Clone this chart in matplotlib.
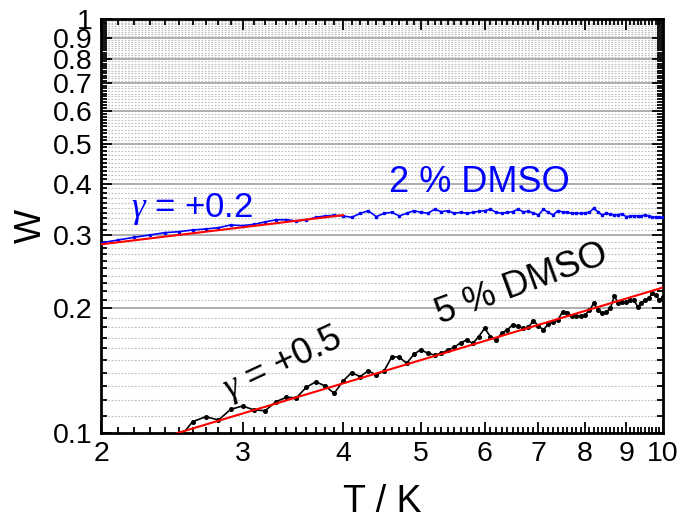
import numpy as np
import matplotlib
matplotlib.use("Agg")
import matplotlib.pyplot as plt
from matplotlib.ticker import FixedLocator, NullFormatter, FixedFormatter

plt.rcParams['font.family'] = ['Liberation Sans', 'DejaVu Sans']
plt.rcParams['mathtext.fontset'] = 'custom'
plt.rcParams['mathtext.it'] = 'Liberation Serif:italic'
plt.rcParams['mathtext.rm'] = 'Liberation Sans'

# ---- data ----
T_2pct = np.round(np.arange(20, 101) / 10, 1)          # 2.0 ... 10.0
W_2pct = [0.288, 0.2925, 0.2970, 0.3008, 0.3047, 0.3064, 0.3093, 0.3110, 0.3133, 0.3180,
          0.3168, 0.3192, 0.3235, 0.3272, 0.3275, 0.3251, 0.3269, 0.3319, 0.3344, 0.3357,
          0.3344, 0.3319, 0.3390, 0.3443, 0.3331, 0.3394, 0.3412, 0.3344, 0.3394, 0.3443,
          0.3412, 0.3394, 0.3470, 0.3424, 0.3443, 0.3394, 0.3412, 0.3394, 0.3412, 0.3430,
          0.3443, 0.3470, 0.3412, 0.3394, 0.3410, 0.3424, 0.3470, 0.3424, 0.3430, 0.3400,
          0.3362, 0.3470, 0.3410, 0.3362, 0.3443, 0.3420, 0.3412, 0.3394, 0.3394, 0.3394,
          0.3400, 0.3412, 0.3489, 0.3420, 0.3362, 0.3394, 0.3380, 0.3362, 0.3370, 0.3381,
          0.3331, 0.3340, 0.3349, 0.3344, 0.3344, 0.3362, 0.3340, 0.3319, 0.3325, 0.3319,
          0.3319]

T_5pct = np.round(np.arange(25, 101) / 10, 1)          # 2.5 ... 10.0
W_5pct = [0.097, 0.1065, 0.1095, 0.1075, 0.1141, 0.1162, 0.1137, 0.1132, 0.1190, 0.1219,
          0.1217, 0.1289, 0.1330, 0.1299, 0.1247, 0.1335, 0.1400, 0.1368, 0.1414, 0.1380,
          0.1414, 0.1528, 0.1524, 0.1473, 0.1550, 0.1590, 0.1557, 0.1543, 0.1557, 0.1586,
          0.1610, 0.1652, 0.1677, 0.1646, 0.1710, 0.1790, 0.1710, 0.1677, 0.1741, 0.1774,
          0.1824, 0.1814, 0.1790, 0.1800, 0.1868, 0.1814, 0.1774, 0.1834, 0.1850, 0.1875,
          0.1963, 0.1953, 0.1917, 0.1917, 0.1915, 0.1928, 0.1980, 0.2057, 0.1982, 0.1947,
          0.1960, 0.2001, 0.2142, 0.2057, 0.2070, 0.2076, 0.2090, 0.2096, 0.2019, 0.2057,
          0.2090, 0.2115, 0.2175, 0.2150, 0.2096, 0.2135]

# power-law fits W = W0 * (T/T0)^gamma
fit_2pct = dict(T0=2.0, W0=0.2856, gamma=0.234, Tmin=2.0, Tmax=4.0)
fit_5pct = dict(T0=2.49, W0=0.100, gamma=0.582, Tmin=2.49, Tmax=10.0)

x_major = [2, 3, 4, 5, 6, 7, 8, 9, 10]
x_labels = ['2', '3', '4', '5', '6', '7', '8', '9', '10']
y_major = [0.1, 0.2, 0.3, 0.4, 0.5, 0.6, 0.7, 0.8, 0.9, 1.0]
y_labels = ['0.1', '0.2', '0.3', '0.4', '0.5', '0.6', '0.7', '0.8', '0.9', '1']

# ---- figure ----
fig = plt.figure(figsize=(6.82, 5.25), dpi=100)
ax = fig.add_axes([101/682, 1-433/525, (663-101)/682, (433-19)/525])
ax.set_xscale('log')
ax.set_yscale('log')
ax.set_xlim(2, 10)
ax.set_ylim(0.1, 1.0)

# grid
major_r = [round(m, 2) for m in y_major]
y_minor = [round(v, 2) for v in np.arange(0.10, 1.001, 0.01) if round(v, 2) not in major_r]
x_minor = [round(v, 1) for v in np.arange(2.0, 10.01, 0.1) if round(v, 1) not in x_major]
for yv in y_minor:
    ax.axhline(yv, color='#bdbdbd', lw=0.8, ls=(0, (1.5, 1.5)), zorder=0)
for yv in y_major[1:-1]:
    ax.axhline(yv, color='#a0a0a0', lw=1.2, zorder=0.5)

def powerlaw(f):
    t = np.geomspace(f['Tmin'], f['Tmax'], 50)
    return t, f['W0'] * (t / f['T0']) ** f['gamma']

ax.plot(T_2pct, W_2pct, color='#0000ff', lw=1.2, marker='s', ms=2.0, zorder=3)
ax.plot(T_5pct, W_5pct, color='black', lw=1.2, marker='o', ms=2.6, zorder=3)
t, w = powerlaw(fit_2pct)
ax.plot(t, w, color='#ff0000', lw=1.5, zorder=4)
t, w = powerlaw(fit_5pct)
ax.plot(t, w, color='#ff0000', lw=1.5, zorder=4)

# ticks
ax.xaxis.set_major_locator(FixedLocator(x_major))
ax.xaxis.set_major_formatter(FixedFormatter(x_labels))
ax.xaxis.set_minor_locator(FixedLocator(x_minor))
ax.xaxis.set_minor_formatter(NullFormatter())
ax.yaxis.set_major_locator(FixedLocator(y_major))
ax.yaxis.set_major_formatter(FixedFormatter(y_labels))
ax.yaxis.set_minor_locator(FixedLocator(y_minor))
ax.yaxis.set_minor_formatter(NullFormatter())
ax.tick_params(which='both', direction='in', top=True, right=True, width=1.3, colors='black')
ax.tick_params(which='major', length=8, labelsize=20.5, pad=6)
ax.tick_params(which='minor', length=4)
for s in ax.spines.values():
    s.set_linewidth(2)

ax.set_xlabel('T / K', fontsize=27, labelpad=12)
ax.set_ylabel('W', fontsize=26, labelpad=3)

# annotations (positions in figure pixels from the top-left)
def ftext(xp, yp, s, **kw):
    fig.text(xp/682, 1-yp/525, s, ha='center', va='center', **kw)

ftext(192, 209, r'$\gamma$ = +0.2', color='#0000ff', fontsize=25)
ftext(479, 182, '2 % DMSO', color='#0000ff', fontsize=26)
ftext(283, 364, r'$\gamma$ = +0.5', color='black', fontsize=26, rotation=25, rotation_mode='anchor')
ftext(522, 284, '5 % DMSO', color='black', fontsize=26, rotation=20, rotation_mode='anchor')

fig.savefig('out.png', dpi=100)
